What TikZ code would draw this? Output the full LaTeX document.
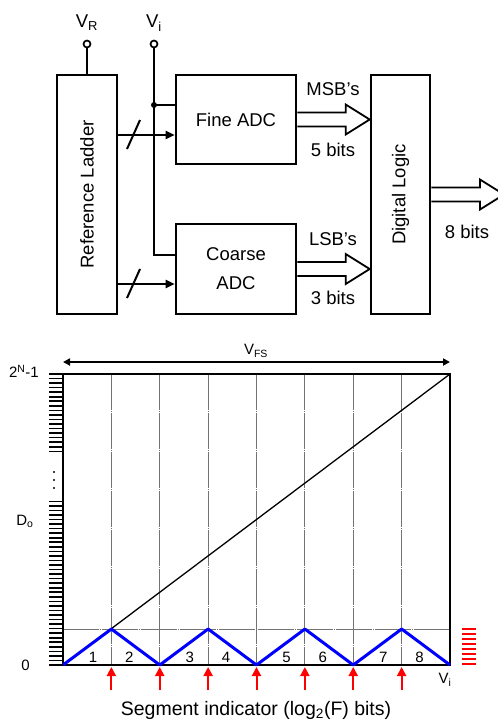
\documentclass[tikz,border=0pt]{standalone}
\usepackage{fontspec}
\setmainfont{Liberation Sans}
\usetikzlibrary{positioning,arrows.meta,calc}

% wide bus arrow from #1 to the tip #2 (horizontal)
\newcommand{\busarrow}[2]{%
  \draw[line width=1.8pt,line join=miter] let \p1=(#1), \p2=(#2) in
    (\x1,\y1+7pt) -- (\x2-24pt,\y1+7pt) -- (\x2-24pt,\y1+15pt) -- (\x2,\y1)
    -- (\x2-24pt,\y1-15pt) -- (\x2-24pt,\y1-7pt) -- (\x1,\y1-7pt);}

\begin{document}
\begin{tikzpicture}[x=1pt,y=-1pt,font=\fontsize{18.5}{22}\selectfont,
  box/.style={draw,line width=2.6pt,inner sep=0pt},
  wire/.style={line width=2pt},
  pin/.style={circle,draw,line width=1.7pt,inner sep=0pt,minimum size=7pt,fill=white},
  small/.style={font=\fontsize{15}{17}\selectfont,inner sep=0pt},
  grid/.style={black!55,line width=0.9pt,dash pattern=on 36pt off 1pt on 1pt off 1pt}]
  \useasboundingbox (0,0) rectangle (498,721);

  % two-step converter
  \node[box,minimum width=60pt,minimum height=239pt] (ladder) at (87,194.5) {};
  \node[rotate=90] (ladderlabel) at (ladder.center) {Reference Ladder};
  \node[box,minimum width=120pt,minimum height=89pt] (fine) at (236,119.5) {Fine ADC};
  \node[box,minimum width=120pt,minimum height=90pt,align=center] (coarse) at (236,269) {Coarse\\[7pt]ADC};
  \node[box,minimum width=59pt,minimum height=239pt] (logic) at (400.5,194.5) {};
  \node[rotate=90] (logiclabel) at (logic.center) {Digital Logic};

  \node[pin] (vr) at (87,44) {};
  \node (vrlabel) at (87,23) {V\textsubscript{R}};
  \node[pin] (vi) at (154,44) {};
  \node (vilabel) at (154,23) {V\textsubscript{i}};
  \draw[wire] (vr) -- (ladder.north);

  \coordinate (tap) at (154,105);
  \coordinate (bend) at (154,255);
  \draw[wire] (vi) -- (bend) -- (bend -| coarse.west);
  \draw[wire] (tap) -- (tap -| fine.west);
  \fill (tap) circle (3pt);

  \foreach \y in {135,284} {
    \draw[wire,-{Triangle[length=9pt,width=8pt]}] (ladder.east |- 0,\y) -- (fine.west |- 0,\y);
    \draw[wire] (127,\y+14) -- (140,\y-15);
  }

  \busarrow{fine.east}{logic.west |- fine.east}
  \busarrow{coarse.east}{logic.west |- coarse.east}
  \coordinate (out) at (504,194.5);
  \busarrow{logic.east}{out}

  \node (msb) at (333,89) {MSB’s};
  \node (fivebits) at (333,150) {5 bits};
  \node (lsb) at (333,239) {LSB’s};
  \node (threebits) at (333,298) {3 bits};
  \node (eightbits) at (467,232) {8 bits};

  % transfer curve, not to scale
  \draw[line width=2pt,{Triangle[length=7pt,width=7pt]}-{Triangle[length=7pt,width=7pt]}] (63,362) -- (450,362);
  \node[small] (vfs) at (256,351) {V\textsubscript{FS}};

  \foreach \k in {1,...,7}
    \draw[grid] (63+\k*48.375,374) -- (63+\k*48.375,665);
  \draw[grid] (63,629) -- (450,629);
  \draw[line width=2.6pt] (63,374) rectangle (450,665);
  \draw[line width=1.3pt] (63,665) -- (450,374);
  \draw[blue,line width=3pt,line join=round] (63,665)
    \foreach \k/\y in {1/629,2/665,3/629,4/665,5/629,6/665,7/629,8/665} { -- (63+\k*48.375,\y) };

  \foreach \k in {0,...,17}
    \draw[line width=1.6pt] (49,374+\k*4.547) -- (63,374+\k*4.547);
  \foreach \k in {28,...,64}
    \draw[line width=1.6pt] (49,374+\k*4.547) -- (63,374+\k*4.547);
  \foreach \y in {472,480,488}
    \fill (54,\y) circle (1.2pt);

  \node[small,anchor=east] (ymax) at (39,371) {2\textsuperscript{N}-1};
  \node[small] (dout) at (25,521) {D\textsubscript{o}};
  \node[small] (zero) at (25.5,665) {0};

  \foreach \k/\d in {1/30,2/18,3/30,4/18,5/30,6/18,7/30,8/18}
    \node[small] (seg\k) at (63+\k*48.375-48.375+\d,657) {\k};

  \foreach \k in {1,...,7}
    \draw[red,line width=2pt,-{Triangle[length=9pt,width=9pt]}] (63+\k*48.375,690) -- (63+\k*48.375,667);
  \foreach \j in {0,...,7}
    \draw[red,line width=2pt] (462,629+\j*5) -- (476,629+\j*5);

  \node[small] (vin) at (445,680) {V\textsubscript{i}};
  \node[font=\fontsize{19.5}{22}\selectfont,anchor=base] (seglabel) at (256,715) {Segment indicator (log\textsubscript{2}(F) bits)};
\end{tikzpicture}
\end{document}
